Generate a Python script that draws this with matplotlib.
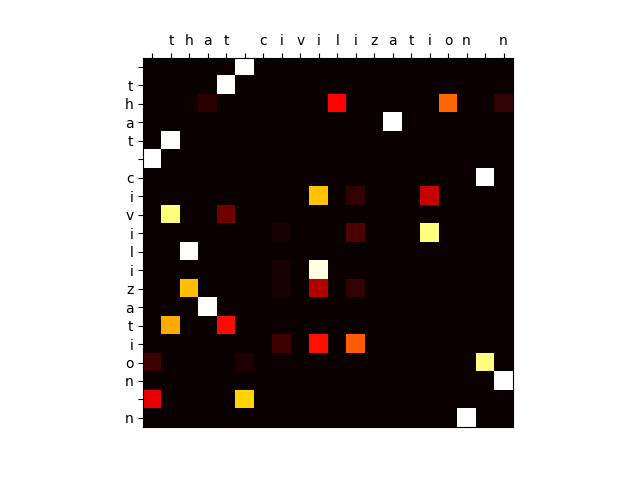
import numpy as np
import matplotlib
matplotlib.use("Agg")
import matplotlib.pyplot as plt

input_chars = list(" that civilization n")
output_chars = list(" that civilization n")

# attention weights: rows = output chars, cols = input chars
rows = {
    0: {5: 1.0},
    1: {4: 1.0},
    2: {2: 0.008, 3: 0.05, 10: 0.37, 16: 0.52, 19: 0.06},
    3: {13: 1.0},
    4: {1: 1.0},
    5: {0: 1.0},
    6: {18: 1.0},
    7: {9: 0.66, 11: 0.06, 15: 0.28},
    8: {1: 0.865, 4: 0.15},
    9: {7: 0.02, 11: 0.10, 15: 0.87},
    10: {2: 0.99},
    11: {7: 0.02, 9: 0.97},
    12: {2: 0.65, 7: 0.02, 9: 0.25, 11: 0.06},
    13: {3: 1.0},
    14: {1: 0.62, 4: 0.38},
    15: {7: 0.08, 9: 0.39, 11: 0.50},
    16: {0: 0.08, 5: 0.03, 18: 0.87},
    17: {19: 1.0},
    18: {0: 0.33, 5: 0.68},
    19: {17: 1.0},
}

attn = np.zeros((len(output_chars), len(input_chars)))
for r, d in rows.items():
    for c, v in d.items():
        attn[r, c] = v

fig = plt.figure(figsize=(6.4, 4.8), dpi=100)
ax = fig.add_subplot(111)
ax.matshow(attn, cmap='hot', vmin=0, vmax=1)
ax.set_xticks(range(len(input_chars)))
ax.set_xticklabels(input_chars)
ax.set_yticks(range(len(output_chars)))
ax.set_yticklabels(output_chars)
ax.tick_params(axis='x', bottom=False)
fig.savefig("out.png", dpi=100)
